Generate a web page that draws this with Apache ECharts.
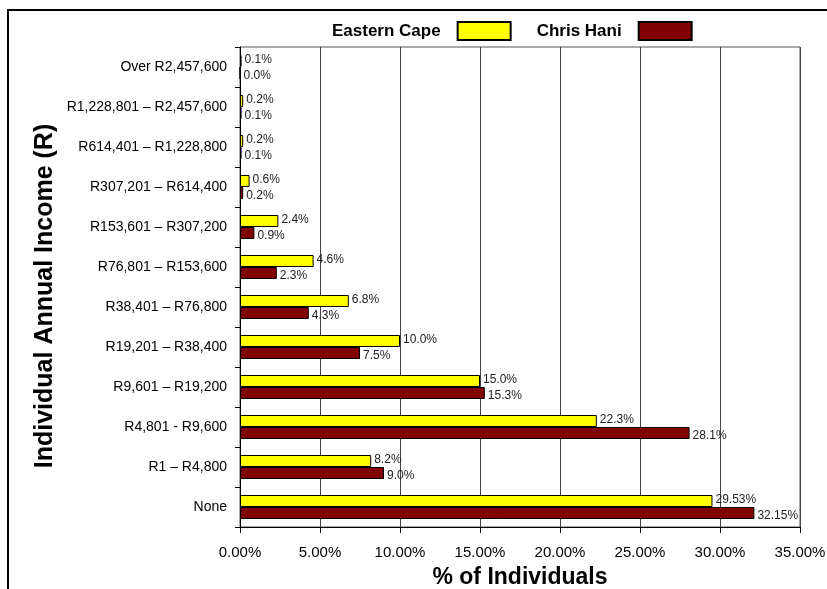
<!DOCTYPE html>
<html>
<head>
<meta charset="utf-8">
<script src="https://cdn.jsdelivr.net/npm/echarts@6/dist/echarts.min.js"></script>
<style>
  html, body { margin: 0; padding: 0; background: #fff; }
  #chart { width: 827px; height: 589px; }
</style>
</head>
<body>
<div id="chart"></div>
<script>
// Income brackets, listed from the bottom of the axis to the top
const categories = [
  'None',
  'R1 \u2013 R4,800',
  'R4,801 - R9,600',
  'R9,601 \u2013 R19,200',
  'R19,201 \u2013 R38,400',
  'R38,401 \u2013 R76,800',
  'R76,801 \u2013 R153,600',
  'R153,601 \u2013 R307,200',
  'R307,201 \u2013 R614,400',
  'R614,401 \u2013 R1,228,800',
  'R1,228,801 \u2013 R2,457,600',
  'Over R2,457,600'
];

// Share of individuals (%) per bracket
const easternCape = [29.53, 8.2, 22.3, 15.0, 10.0, 6.8, 4.6, 2.4, 0.6, 0.2, 0.2, 0.1];
const chrisHani   = [32.15, 9.0, 28.1, 15.3, 7.5, 4.3, 2.3, 0.9, 0.2, 0.1, 0.1, 0.0];

// X axis ticks (%)
const xTicks = [0, 5, 10, 15, 20, 25, 30, 35];

const FONT = 'Liberation Sans, Arial, sans-serif';

function pctLabel(p) {
  const v = p.value;
  const oneDecimal = Math.abs(v * 10 - Math.round(v * 10)) < 1e-9;
  return v.toFixed(oneDecimal ? 1 : 2) + '%';
}

function barSeries(name, data, color, labelShift) {
  return {
    name: name,
    type: 'bar',
    data: data,
    barWidth: 12,
    barGap: '0%',
    itemStyle: { color: color, borderColor: '#000', borderWidth: 1 },
    label: {
      show: true,
      position: 'right',
      distance: 3,
      offset: [0, labelShift],
      formatter: pctLabel,
      fontFamily: FONT,
      fontSize: 12,
      color: '#222'
    }
  };
}

const chart = echarts.init(document.getElementById('chart'), null, { renderer: 'canvas' });

chart.setOption({
  animation: false,
  backgroundColor: '#fff',
  graphic: [
    {
      type: 'rect',
      shape: { x: 8, y: 10, width: 900, height: 700 },
      style: { fill: 'none', stroke: '#000', lineWidth: 2 },
      silent: true,
      z: -10
    },
    {
      // vertical title of the bracket axis
      type: 'text',
      x: 45,
      y: 296,
      rotation: Math.PI / 2,
      style: {
        text: 'Individual Annual Income (R)',
        fontFamily: FONT,
        fontWeight: 'bold',
        fontSize: 25,
        fill: '#000',
        align: 'center',
        verticalAlign: 'middle'
      },
      silent: true
    }
  ],
  legend: {
    top: 16,
    left: 327,
    align: 'right',
    itemWidth: 53,
    itemHeight: 18,
    itemGap: 25,
    icon: 'rect',
    textStyle: {
      fontFamily: FONT,
      fontWeight: 'bold',
      fontSize: 17,
      color: '#000',
      padding: [0, 12, 0, 0]
    },
    data: ['Eastern Cape', 'Chris Hani']
  },
  grid: {
    left: 240,
    right: 27,
    top: 47,
    bottom: 62,
    outerBoundsMode: 'none',
    containLabel: false,
    show: true,
    borderColor: '#555',
    borderWidth: 1
  },
  xAxis: {
    type: 'value',
    min: xTicks[0],
    max: xTicks[xTicks.length - 1],
    interval: 5,
    name: '% of Individuals',
    nameLocation: 'middle',
    nameGap: 39,
    nameTextStyle: { fontFamily: FONT, fontWeight: 'bold', fontSize: 23, color: '#000' },
    axisLine: { show: true, lineStyle: { color: '#000', width: 1 } },
    axisTick: { show: true, length: 6, lineStyle: { color: '#000' } },
    axisLabel: {
      fontFamily: FONT,
      fontSize: 15,
      color: '#000',
      margin: 18,
      formatter: v => v.toFixed(2) + '%'
    },
    splitLine: { show: true, lineStyle: { color: '#444', width: 1 } }
  },
  yAxis: {
    type: 'category',
    data: categories,
    axisLine: { show: true, lineStyle: { color: '#000', width: 1 } },
    axisTick: { show: true, length: 5, lineStyle: { color: '#000' } },
    axisLabel: { fontFamily: FONT, fontSize: 14, color: '#000', margin: 13 },
    splitLine: { show: false }
  },
  series: [
    barSeries('Eastern Cape', easternCape, '#ffff00', -1),
    barSeries('Chris Hani', chrisHani, '#800000', 3)
  ]
});
</script>
</body>
</html>
